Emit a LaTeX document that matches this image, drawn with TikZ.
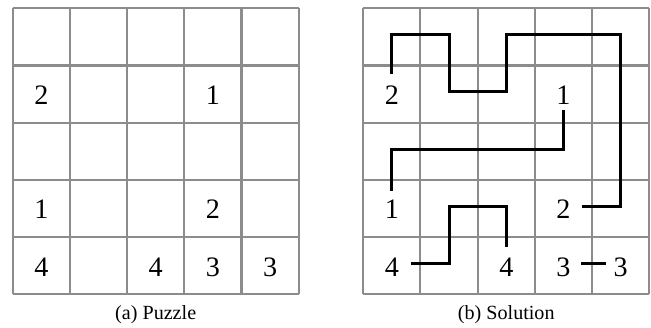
\documentclass[tikz,border=0pt]{standalone}
\usepackage{fontspec}
\setmainfont{Liberation Serif}
\begin{document}
\begin{tikzpicture}[
  gridline/.style={draw=black!45, line width=1pt},
  digit/.style={anchor=base, inner sep=0pt, font=\fontsize{14}{16}\selectfont},
  captext/.style={anchor=base, inner sep=0pt, font=\fontsize{10}{12}\selectfont},
  link/.style={draw=black, line width=1.5pt}
]
\useasboundingbox (0,0) rectangle (11.381,-5.717);
% ---------- (a) Puzzle ----------
\begin{scope}[shift={(0.222,-0.145)}, yscale=-1]
  \draw[gridline] (0,0) grid (5,5);
  \node[digit] (a21) at (0.5,1.68) {2};
  \node[digit] (a24) at (3.5,1.68) {1};
  \node[digit] (a41) at (0.5,3.68) {1};
  \node[digit] (a44) at (3.5,3.68) {2};
  \node[digit] (a51) at (0.5,4.68) {4};
  \node[digit] (a53) at (2.5,4.68) {4};
  \node[digit] (a54) at (3.5,4.68) {3};
  \node[digit] (a55) at (4.5,4.68) {3};
  \node[captext] (capa) at (2.5,5.44) {(a) Puzzle};
\end{scope}
% ---------- (b) Solution ----------
\begin{scope}[shift={(6.351,-0.145)}, yscale=-1]
  \draw[gridline] (0,0) grid (5,5);
  \node[digit] (b21) at (0.5,1.68) {2};
  \node[digit] (b24) at (3.5,1.68) {1};
  \node[digit] (b41) at (0.5,3.68) {1};
  \node[digit] (b44) at (3.5,3.68) {2};
  \node[digit] (b51) at (0.5,4.68) {4};
  \node[digit] (b53) at (2.5,4.68) {4};
  \node[digit] (b54) at (3.5,4.68) {3};
  \node[digit] (b55) at (4.5,4.68) {3};
  \node[captext] (capb) at (2.5,5.44) {(b) Solution};
  % connector end points
  \coordinate (t2a) at (0.5,1.14);
  \coordinate (t2b) at (3.825,3.46);
  \coordinate (t1a) at (3.5,1.78);
  \coordinate (t1b) at (0.5,3.19);
  \coordinate (t4a) at (0.832,4.46);
  \coordinate (t4b) at (2.5,4.175);
  \coordinate (t3a) at (3.805,4.46);
  \coordinate (t3b) at (4.235,4.46);
  % connectors
  \draw[link] (t2a) -- (0.5,0.46) -- (1.5,0.46) -- (1.5,1.46) -- (2.5,1.46)
      -- (2.5,0.46) -- (4.5,0.46) -- (4.5,3.46) -- (t2b);
  \draw[link] (t1a) -- (3.5,2.46) -- (0.5,2.46) -- (t1b);
  \draw[link] (t4a) -- (1.5,4.46) -- (1.5,3.46) -- (2.5,3.46) -- (t4b);
  \draw[link] (t3a) -- (t3b);
\end{scope}
\end{tikzpicture}
\end{document}
